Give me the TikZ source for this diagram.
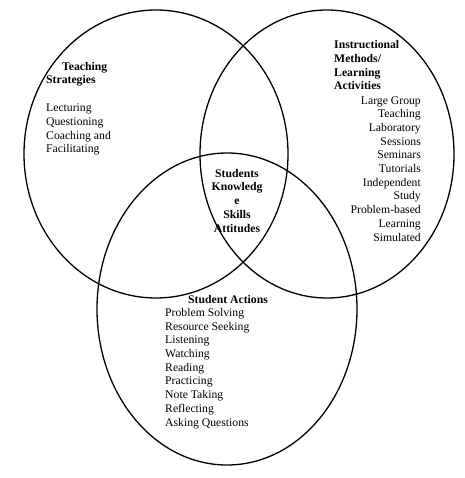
\documentclass[tikz,border=0pt]{standalone}
\usepackage{fontspec}
\setmainfont{Liberation Serif}
\usetikzlibrary{positioning}

\tikzset{
  ring/.style={line width=1.3pt},
  txt/.style={inner sep=0pt, font=\fontsize{11.7}{13.7}\selectfont},
  head/.style={txt, font=\fontsize{11.7}{13.7}\selectfont\bfseries}
}

\begin{document}
\begin{tikzpicture}[x=1pt,y=-1pt]
      \useasboundingbox (0,0) rectangle (464,478);
      \draw[ring] (156,154) ellipse [x radius=132pt, y radius=144pt];
      \draw[ring] (327,154) ellipse [x radius=127pt, y radius=144pt];
      \draw[ring] (227,309) ellipse [x radius=130pt, y radius=156pt];
      \node[head, anchor=base west, align=left] (teach) at (46,84)
        {\hspace*{16pt}Teaching\\Strategies};
      \node[txt, anchor=base west, align=left] (teachlist) at (46,153)
        {Lecturing\\Questioning\\Coaching and\\Facilitating};
      \node[head, anchor=base west, align=left] (instr) at (334,90)
        {Instructional\\Methods/\\Learning\\Activities};
      \node[txt, anchor=base east, align=right] (instrlist) at (421,241)
        {Large Group\\Teaching\\Laboratory\\Sessions\\Seminars\\Tutorials\\Independent\\Study\\Problem-based\\Learning\\Simulated};
      \node[head, anchor=base, align=center] (core) at (237,232)
        {Students\\Knowledg\\e\\Skills\\Attitudes};
      \node[head, anchor=base] (act) at (228,303) {Student Actions};
      \node[txt, anchor=base west, align=left] (actlist) at (165,426)
        {Problem Solving\\Resource Seeking\\Listening\\Watching\\Reading\\Practicing\\Note Taking\\Reflecting\\Asking Questions};
    \end{tikzpicture}
\end{document}
